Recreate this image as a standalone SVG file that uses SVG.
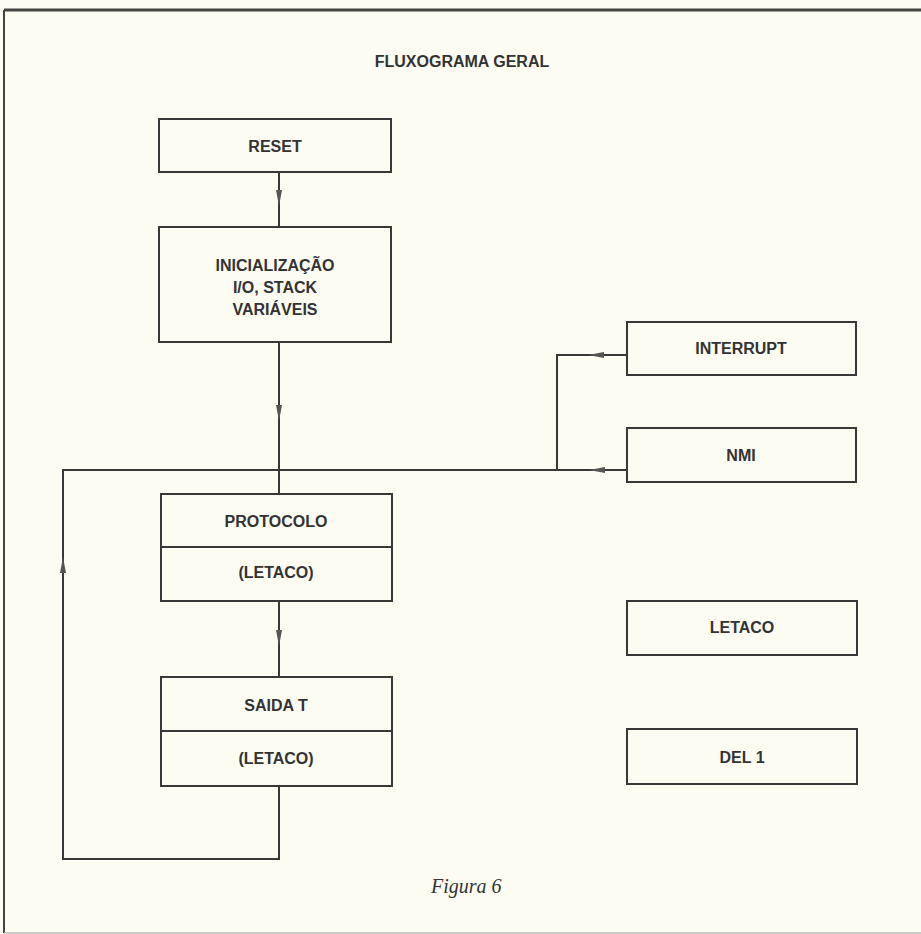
<svg xmlns="http://www.w3.org/2000/svg" width="921" height="934" viewBox="0 0 921 934">
  <defs>
    <style>
      .box { fill: none; stroke: #383838; stroke-width: 2; }
      .wire { fill: none; stroke: #383838; stroke-width: 2; }
      .lbl { font-family: "Liberation Sans", Arial, sans-serif; font-weight: bold; font-size: 16px; fill: #333; text-anchor: middle; }
      .title { font-family: "Liberation Sans", Arial, sans-serif; font-weight: bold; font-size: 16px; fill: #333; text-anchor: middle; }
      .cap { font-family: "Liberation Serif", "Times New Roman", serif; font-style: italic; font-size: 20px; fill: #333; }
    </style>
    <marker id="arr" viewBox="0 0 16 8" refX="16" refY="4" markerWidth="16" markerHeight="8" markerUnits="userSpaceOnUse" orient="auto">
      <path d="M0,1 L16,4 L0,7 Z" fill="#555"/>
    </marker>
  </defs>

  <!-- paper -->
  <rect x="0" y="0" width="921" height="934" fill="#fcfcf3"/>
  <!-- frame -->
  <path d="M4,10 H921" stroke="#444" stroke-width="3" fill="none"/>
  <path d="M4,10 V933" stroke="#444" stroke-width="2" fill="none"/>
  <path d="M4,933 H921" stroke="#bbb" stroke-width="1.5" fill="none"/>

  <text class="title" x="462" y="67">FLUXOGRAMA GERAL</text>

  <!-- connectors -->
  <g id="connectors">
    <path class="wire" d="M279,172 V206" marker-end="url(#arr)"/>
    <path class="wire" d="M279,206 V227"/>
    <path class="wire" d="M279,342 V421" marker-end="url(#arr)"/>
    <path class="wire" d="M279,421 V494"/>
    <path class="wire" d="M279,601 V646" marker-end="url(#arr)"/>
    <path class="wire" d="M279,646 V677"/>
    <!-- return loop -->
    <path class="wire" d="M279,786 V859 H63 V557" marker-end="url(#arr)"/>
    <path class="wire" d="M63,557 V470 H279"/>
    <!-- NMI -->
    <path class="wire" d="M627,470 H589" marker-end="url(#arr)"/>
    <path class="wire" d="M589,470 H279"/>
    <!-- INTERRUPT -->
    <path class="wire" d="M627,355 H588" marker-end="url(#arr)"/>
    <path class="wire" d="M588,355 H557 V470"/>
  </g>

  <g id="reset">
    <rect class="box" x="159" y="119" width="232" height="53"/>
    <text class="lbl" x="275" y="152">RESET</text>
  </g>

  <g id="inicializacao">
    <rect class="box" x="159" y="227" width="232" height="115"/>
    <text class="lbl" x="275" y="271">INICIALIZAÇÃO</text>
    <text class="lbl" x="275" y="293">I/O, STACK</text>
    <text class="lbl" x="275" y="315">VARIÁVEIS</text>
  </g>

  <g id="protocolo">
    <rect class="box" x="161" y="494" width="231" height="107"/>
    <line class="box" x1="161" y1="547" x2="392" y2="547"/>
    <text class="lbl" x="276" y="527">PROTOCOLO</text>
    <text class="lbl" x="276" y="578">(LETACO)</text>
  </g>

  <g id="saida-t">
    <rect class="box" x="161" y="677" width="231" height="109"/>
    <line class="box" x1="161" y1="731" x2="392" y2="731"/>
    <text class="lbl" x="276" y="711">SAIDA T</text>
    <text class="lbl" x="276" y="764">(LETACO)</text>
  </g>

  <g id="interrupt">
    <rect class="box" x="627" y="322" width="229" height="53"/>
    <text class="lbl" x="741" y="354">INTERRUPT</text>
  </g>

  <g id="nmi">
    <rect class="box" x="627" y="428" width="229" height="54"/>
    <text class="lbl" x="741" y="461">NMI</text>
  </g>

  <g id="letaco">
    <rect class="box" x="627" y="601" width="230" height="54"/>
    <text class="lbl" x="742" y="633">LETACO</text>
  </g>

  <g id="del1">
    <rect class="box" x="627" y="729" width="230" height="55"/>
    <text class="lbl" x="742" y="763">DEL 1</text>
  </g>

  <text class="cap" x="431" y="893">Figura 6</text>
</svg>
